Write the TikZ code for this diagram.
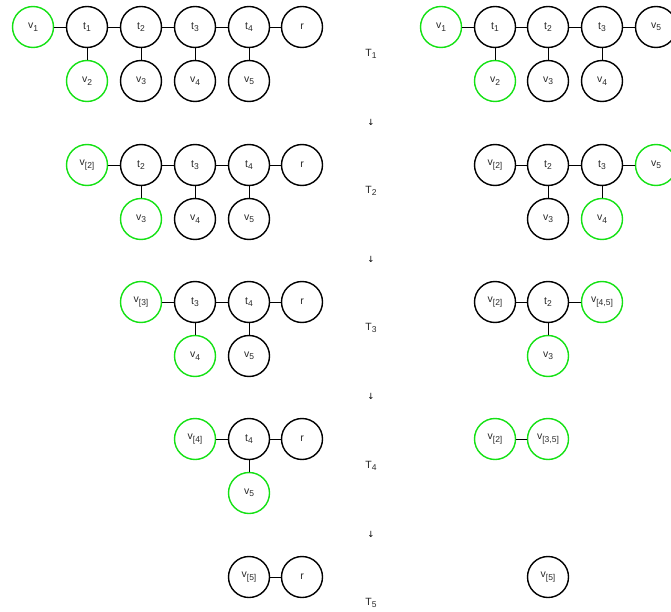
\documentclass[tikz,border=0pt]{standalone}
\usepackage{fontspec}
\setmainfont{Liberation Sans}
\newfontfamily\arrowfont{DejaVu Sans}
\definecolor{hlgreen}{RGB}{20,225,20}
\definecolor{txtgray}{RGB}{40,40,40}
\newcommand{\sv}[2]{#1\raisebox{-0.45ex}{\fontsize{8.5}{9}\selectfont #2}}
\begin{document}
\begin{tikzpicture}[x=1pt,y=-1pt,font=\fontsize{10.5}{12}\selectfont,line join=round,line cap=round,
  vert/.style={circle,draw,line width=1.4pt,minimum size=41pt,inner sep=0pt,text=txtgray},
  hl/.style={vert,draw=hlgreen},
  edge/.style={line width=0.8pt}]
\useasboundingbox (0,0) rectangle (671,612);
% T_1
\node[hl]   (a1v1) at (33,27)  {\sv{v}{1}};
\node[vert] (a1t1) at (87,27)  {\sv{t}{1}};
\node[vert] (a1t2) at (141,27) {\sv{t}{2}};
\node[vert] (a1t3) at (195,27) {\sv{t}{3}};
\node[vert] (a1t4) at (249,27) {\sv{t}{4}};
\node[vert] (a1r)  at (302,27) {r};
\node[hl]   (a1v2) at (87,81)  {\sv{v}{2}};
\node[vert] (a1v3) at (141,81) {\sv{v}{3}};
\node[vert] (a1v4) at (195,81) {\sv{v}{4}};
\node[vert] (a1v5) at (249,81) {\sv{v}{5}};
\draw[edge] (a1v1)--(a1t1)--(a1t2)--(a1t3)--(a1t4)--(a1r)
  (a1t1)--(a1v2) (a1t2)--(a1v3) (a1t3)--(a1v4) (a1t4)--(a1v5);
\node[hl]   (b1v1) at (441,27) {\sv{v}{1}};
\node[vert] (b1t1) at (495,27) {\sv{t}{1}};
\node[vert] (b1t2) at (548,27) {\sv{t}{2}};
\node[vert] (b1t3) at (602,27) {\sv{t}{3}};
\node[vert] (b1v5) at (656,27) {\sv{v}{5}};
\node[hl]   (b1v2) at (495,81) {\sv{v}{2}};
\node[vert] (b1v3) at (548,81) {\sv{v}{3}};
\node[vert] (b1v4) at (602,81) {\sv{v}{4}};
\draw[edge] (b1v1)--(b1t1)--(b1t2)--(b1t3)--(b1v5)
  (b1t1)--(b1v2) (b1t2)--(b1v3) (b1t3)--(b1v4);
% T_2
\node[hl]   (a2v2) at (87,165)  {\sv{v}{[2]}};
\node[vert] (a2t2) at (141,165) {\sv{t}{2}};
\node[vert] (a2t3) at (195,165) {\sv{t}{3}};
\node[vert] (a2t4) at (249,165) {\sv{t}{4}};
\node[vert] (a2r)  at (302,165) {r};
\node[hl]   (a2v3) at (141,219) {\sv{v}{3}};
\node[vert] (a2v4) at (195,219) {\sv{v}{4}};
\node[vert] (a2v5) at (249,219) {\sv{v}{5}};
\draw[edge] (a2v2)--(a2t2)--(a2t3)--(a2t4)--(a2r)
  (a2t2)--(a2v3) (a2t3)--(a2v4) (a2t4)--(a2v5);
\node[vert] (b2v2) at (495,165) {\sv{v}{[2]}};
\node[vert] (b2t2) at (548,165) {\sv{t}{2}};
\node[vert] (b2t3) at (602,165) {\sv{t}{3}};
\node[hl]   (b2v5) at (656,165) {\sv{v}{5}};
\node[vert] (b2v3) at (548,219) {\sv{v}{3}};
\node[hl]   (b2v4) at (602,219) {\sv{v}{4}};
\draw[edge] (b2v2)--(b2t2)--(b2t3)--(b2v5)
  (b2t2)--(b2v3) (b2t3)--(b2v4);
% T_3
\node[hl]   (a3v3) at (141,302) {\sv{v}{[3]}};
\node[vert] (a3t3) at (195,302) {\sv{t}{3}};
\node[vert] (a3t4) at (249,302) {\sv{t}{4}};
\node[vert] (a3r)  at (302,302) {r};
\node[hl]   (a3v4) at (195,356) {\sv{v}{4}};
\node[vert] (a3v5) at (249,356) {\sv{v}{5}};
\draw[edge] (a3v3)--(a3t3)--(a3t4)--(a3r)
  (a3t3)--(a3v4) (a3t4)--(a3v5);
\node[vert] (b3v2)  at (495,302) {\sv{v}{[2]}};
\node[vert] (b3t2)  at (548,302) {\sv{t}{2}};
\node[hl]   (b3v45) at (602,302) {\sv{v}{[4,5]}};
\node[hl]   (b3v3)  at (548,356) {\sv{v}{3}};
\draw[edge] (b3v2)--(b3t2)--(b3v45) (b3t2)--(b3v3);
% T_4
\node[hl]   (a4v4) at (195,439) {\sv{v}{[4]}};
\node[vert] (a4t4) at (249,439) {\sv{t}{4}};
\node[vert] (a4r)  at (302,439) {r};
\node[hl]   (a4v5) at (249,493) {\sv{v}{5}};
\draw[edge] (a4v4)--(a4t4)--(a4r) (a4t4)--(a4v5);
\node[hl]   (b4v2)  at (495,439) {\sv{v}{[2]}};
\node[hl]   (b4v35) at (548,439) {\sv{v}{[3,5]}};
\draw[edge] (b4v2)--(b4v35);
% T_5
\node[vert] (a5v5) at (249,577) {\sv{v}{[5]}};
\node[vert] (a5r)  at (302,577) {r};
\draw[edge] (a5v5)--(a5r);
\node[vert] (b5v5) at (548,577) {\sv{v}{[5]}};
% stage labels
\foreach \i/\y in {1/54, 2/191, 3/328, 4/466, 5/603}
  \node[text=txtgray] (lab\i) at (371,\y) {\sv{T}{\i}};
\foreach \i/\y in {1/122, 2/259, 3/396, 4/534}
  \node[font=\arrowfont\fontsize{8.5}{9}\selectfont] (arr\i) at (371,\y) {↓};
\end{tikzpicture}
\end{document}
